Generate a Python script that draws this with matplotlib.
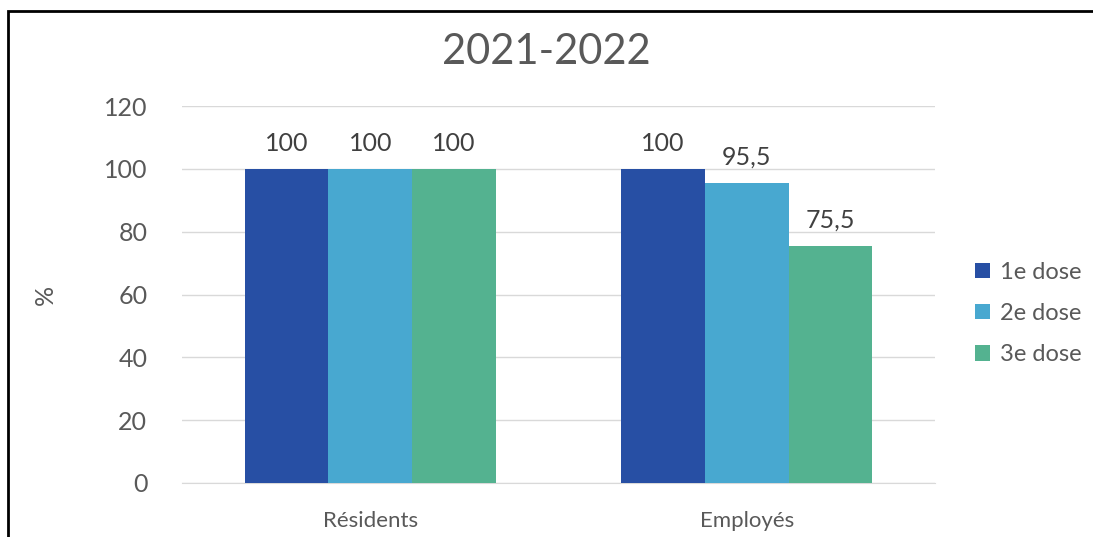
import matplotlib.pyplot as plt
import numpy as np
from matplotlib.patches import Rectangle

categories = ['Résidents', 'Employés']
series_names = ['1e dose', '2e dose', '3e dose']
dose1 = [100, 100]
dose2 = [100, 95.5]
dose3 = [100, 75.5]
colors = ['#274FA4', '#48A8D0', '#54B290']
yticks = [0, 20, 40, 60, 80, 100, 120]

plt.rcParams['font.family'] = ['Lato', 'DejaVu Sans']
text_col = '#595959'

fig = plt.figure(figsize=(10.93, 5.37), dpi=100)
ax = fig.add_axes([182 / 1093, 1 - 483 / 537, 753 / 1093, 377 / 537])

x = np.arange(len(categories))
w = 0.222
for i, (vals, name, col) in enumerate(zip([dose1, dose2, dose3], series_names, colors)):
    bars = ax.bar(x + (i - 1) * w, vals, w, color=col, label=name, zorder=3)
    for b, v in zip(bars, vals):
        lab = f'{v:g}'.replace('.', ',')
        ax.text(b.get_x() + b.get_width() / 2, v + 4.5, lab, ha='center', va='bottom',
                fontsize=18, color='#404040')

ax.set_xlim(-0.5, 1.5)
ax.set_ylim(0, 120)
ax.set_yticks(yticks)
ax.set_xticks(x)
ax.set_xticklabels(categories)
ax.grid(axis='y', color='#D9D9D9', linewidth=1, zorder=0)
for s in ['top', 'right', 'left']:
    ax.spines[s].set_visible(False)
ax.spines['bottom'].set_color('#D9D9D9')
ax.tick_params(axis='both', length=0, colors=text_col)
ax.tick_params(axis='y', labelsize=18, pad=25)
ax.tick_params(axis='x', labelsize=16, pad=20)
ax.set_ylabel('%', fontsize=18, color=text_col)
ax.yaxis.set_label_coords((57 - 182) / 753, 0.5)

fig.text(0.5, 1 - 52 / 537, '2021-2022', ha='center', va='center', fontsize=30, color=text_col)

ax.legend(loc='center left', bbox_to_anchor=(1.025, 0.45), frameon=False, fontsize=17,
          labelcolor=text_col, handlelength=0.65, handleheight=0.65, handletextpad=0.4,
          labelspacing=0.85)

# outer frame
fig.patches.append(Rectangle((8 / 1093, -0.05), 1.2, 1 - 11 / 537 + 0.05,
                             transform=fig.transFigure, fill=False,
                             edgecolor='black', linewidth=2))

fig.savefig('out.png', dpi=100)
